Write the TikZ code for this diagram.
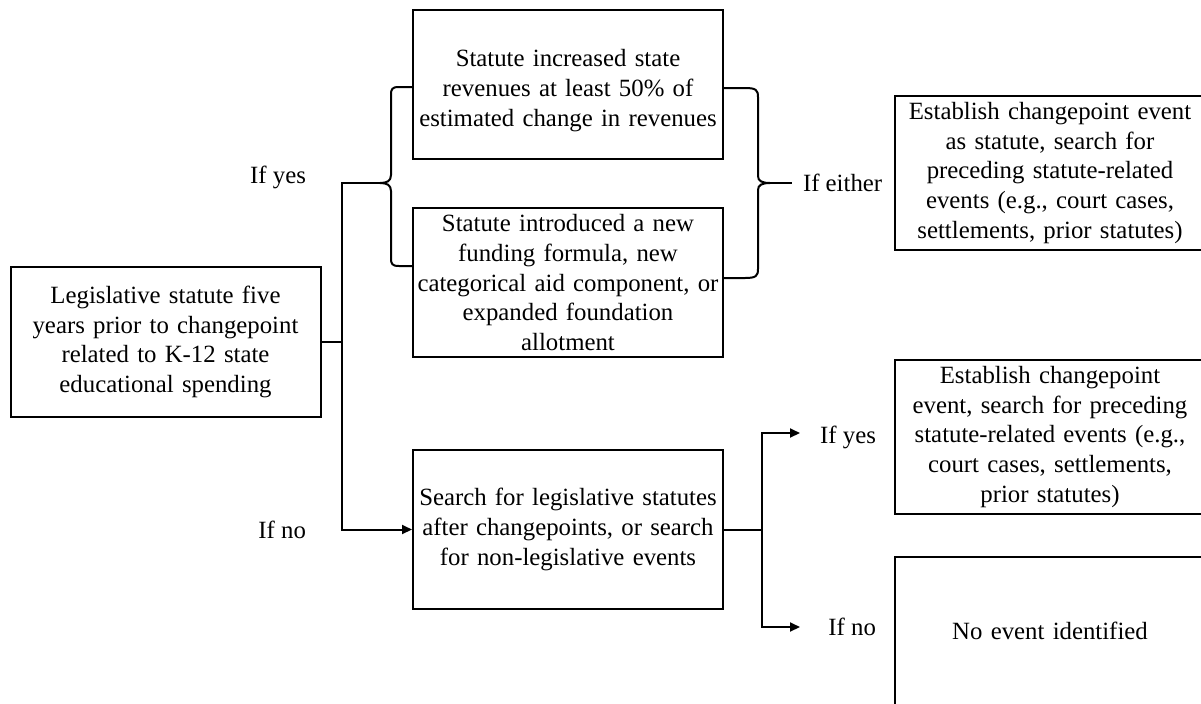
\documentclass[tikz,border=0pt]{standalone}
\usepackage{fontspec}
\setmainfont{Liberation Serif}
\usetikzlibrary{positioning,arrows.meta}

\begin{document}
\begin{tikzpicture}[x=0.5pt,y=-0.5pt,line width=1pt,>={Triangle[length=5pt,width=4.5pt]}]
  \tikzstyle{box}=[draw,line width=1pt,text width=154pt,inner xsep=0.5pt,align=center,
    font=\fontsize{12.4}{14.8}\selectfont]
  \tikzstyle{lbl}=[inner sep=0pt,font=\fontsize{12.4}{14.8}\selectfont]

  \useasboundingbox (0,0) rectangle (1201,703);

  \node[box,minimum height=75pt] (leg) at (165.5,342) {Legislative statute five\\years prior to changepoint\\related to K-12 state\\educational spending};
  \node[box,minimum height=74.5pt] (rev) at (568,84.5) {\rule{0pt}{14.6pt}Statute increased state\\revenues at least 50\% of\\estimated change in revenues};
  \node[box,minimum height=74pt,below=23.5pt of rev] (form) {Statute introduced a new\\funding formula, new\\categorical aid component, or\\expanded foundation\\allotment};
  \node[box,minimum height=79.5pt] (srch) at (568,529.5) {Search for legislative statutes\\after changepoints, or search\\for non-legislative events};
  \node[box,minimum height=75pt] (est1) at (1050,173) {Establish changepoint event\\as statute, search for\\preceding statute-related\\events (e.g., court cases,\\settlements, prior statutes)};
  \node[box,minimum height=75pt] (est2) at (1050,437) {Establish changepoint\\event, search for preceding\\statute-related events (e.g.,\\court cases, settlements,\\prior statutes)};
  \node[box,minimum height=74pt,below=20.5pt of est2] (none) {No event identified};

  \node[lbl,anchor=base east] (yes1) at (307,183) {If yes};
  \node[lbl,anchor=base east] (no1) at (307,538) {If no};
  \node[lbl,anchor=base west] (either) at (802,191) {If either};
  \node[lbl,anchor=base east] (yes2) at (877,443) {If yes};
  \node[lbl,anchor=base east] (no2) at (877,635) {If no};

  \coordinate (fork) at (342,342);
  \coordinate (ltip) at (380,183);
  \coordinate (rtip) at (770,183);
  \coordinate (rline) at (792,183);
  \coordinate (rfork) at (762,529.5);
  \coordinate (yesend) at (800,433);
  \coordinate (noend) at (800,627);

  % braces round the two statute tests
  \draw (413,87) -- (399,87) .. controls (392,87) and (391,89) .. (391,95) -- (391,175)
    .. controls (391,181) and (387,183) .. (ltip) .. controls (387,183) and (391,185) .. (391,191)
    -- (391,258) .. controls (391,264) and (392,266) .. (399,266) -- (413,266);
  \draw (723,88) -- (745,88) .. controls (756,88) and (758,90) .. (758,97) -- (758,176)
    .. controls (758,181) and (762,183) .. (rtip) .. controls (762,183) and (758,185) .. (758,190)
    -- (758,269) .. controls (758,276) and (756,278) .. (745,278) -- (723,278);

  \draw (leg.east) -- (fork) |- (ltip);
  \draw[->] (fork) |- (srch.west);
  \draw (rtip) -- (rline);
  \draw (srch.east) -- (rfork);
  \draw[->] (rfork) |- (yesend);
  \draw[->] (rfork) |- (noend);
\end{tikzpicture}
\end{document}
